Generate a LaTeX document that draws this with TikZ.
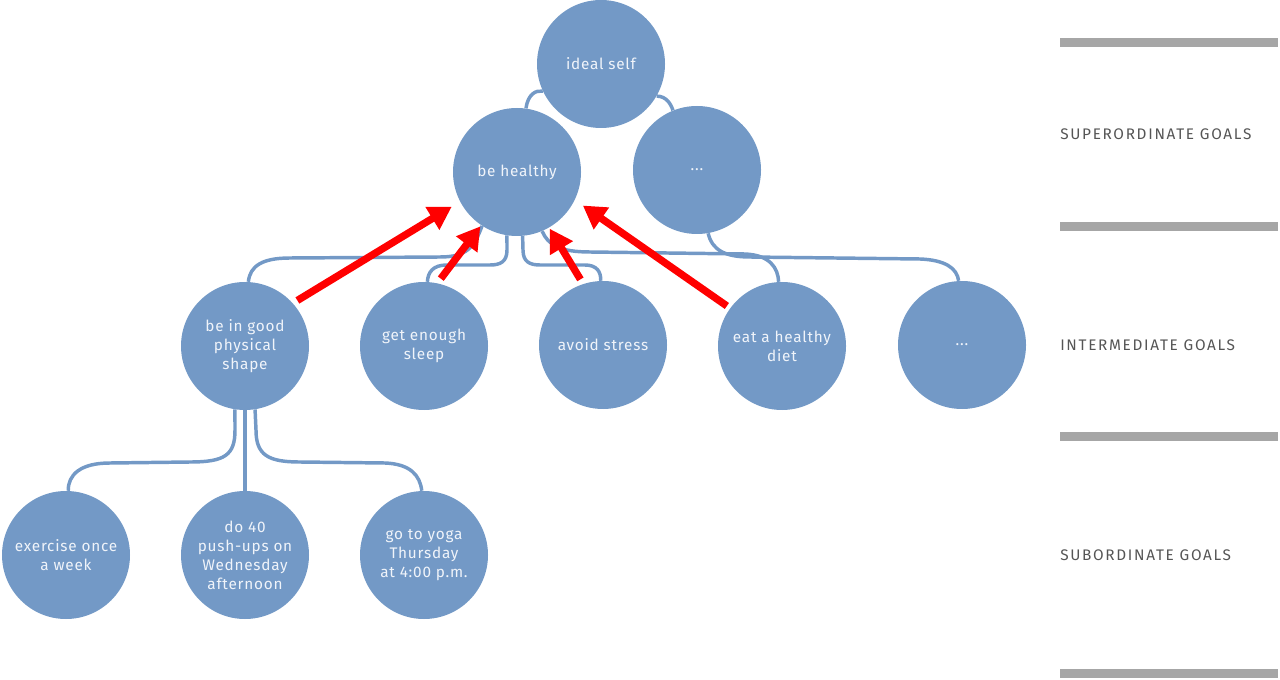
\documentclass[tikz,border=0pt]{standalone}
\usepackage{fontspec}
\setmainfont{Fira Sans}
\usetikzlibrary{calc,arrows.meta,backgrounds}
\definecolor{goalblue}{RGB}{115,153,198}
\definecolor{goaltext}{RGB}{240,244,250}
\definecolor{bargray}{RGB}{166,166,166}
\definecolor{labelgray}{RGB}{85,85,85}
\newfontfamily\circfont[LetterSpace=5]{Fira Sans}
\newfontfamily\labfont[LetterSpace=11]{Fira Sans}
\tikzset{
  goal/.style={circle, fill=goalblue, minimum size=96pt, inner sep=0pt,
    text=goaltext, align=center, font=\circfont\fontsize{11.5}{14.25}\selectfont},
  conn/.style={draw=goalblue, line width=2.6pt},
  redarrow/.style={draw=red, line width=5.5pt, -{Triangle[length=17pt,width=19pt]}},
  levellabel/.style={anchor=west, inner sep=0pt, text=labelgray, font=\labfont\fontsize{11.5}{13}\selectfont},
  levelbar/.style={fill=bargray, draw=none}
}
\begin{document}
\begin{tikzpicture}[x=0.75pt,y=-0.75pt]
\useasboundingbox (0,0) rectangle (1280,680);
% nodes
\node[goal] (is) at (601,64) {ideal self};
\node[goal] (bh) at (517,172) {be healthy};
\node[goal] (d1) at (697,170) {...};
\node[goal] (phys) at (245,346) {be in good\\physical\\shape};
\node[goal] (sleep) at (424,346) {get enough\\sleep};
\node[goal] (stress) at (603,345) {avoid stress};
\node[goal] (diet) at (782,346) {eat a healthy\\diet};
\node[goal] (d2) at (962,345) {...};
\node[goal] (ex) at (66,555) {exercise once\\a week};
\node[goal] (push) at (245,555) {do 40\\push-ups on\\Wednesday\\afternoon};
\node[goal] (yoga) at (424,555) {go to yoga\\Thursday\\at 4:00 p.m.};
% connectors
\begin{pgfonlayer}{background}
\draw[conn] (bh.82) .. controls (528,94) and (536,90) .. (is.205);
\draw[conn] (is.330) .. controls (666,96) and (671,104) .. (d1.112);
\draw[conn] (bh.237) .. controls (474,248) and (466,257) .. (440,257) -- (290,258) .. controls (262,258) and (250,266) .. (phys.87);
\draw[conn] (bh.261) -- (507,250) .. controls (507,262) and (500,265) .. (490,265) -- (447,265) .. controls (433,265) and (428,272) .. (sleep.87);
\draw[conn] (bh.275) -- (523,250) .. controls (523,262) and (530,265) .. (540,265) -- (585,265) .. controls (597,265) and (601,272) .. (stress.92);
\draw[conn] (bh.293) .. controls (548,245) and (560,252) .. (590,252) -- (745,254) .. controls (770,255) and (778,268) .. (diet.93);
\draw[conn] (d1.280) .. controls (712,250) and (725,257) .. (750,257) -- (920,259) .. controls (945,260) and (957,268) .. (d2.93);
\draw[conn] (phys.261) -- (235,430) .. controls (235,455) and (225,462) .. (190,462) -- (110,463) .. controls (80,463) and (68,475) .. (ex.88);
\draw[conn] (phys.south) -- (push.north);
\draw[conn] (phys.279) -- (256,430) .. controls (256,455) and (268,462) .. (300,462) -- (385,463) .. controls (410,464) and (420,475) .. (yoga.92);
\end{pgfonlayer}
% red arrows
\draw[redarrow] ($(phys.center)!1.08!(phys.41.5)$) -- ($(bh.center)!1.15!(bh.208)$);
\draw[redarrow] ($(sleep.center)!1.08!(sleep.76.6)$) -- ($(bh.center)!1.02!(bh.236)$);
\draw[redarrow] ($(stress.center)!1.08!(stress.109.5)$) -- ($(bh.center)!1.02!(bh.300.5)$);
\draw[redarrow] ($(diet.center)!1.06!(diet.144)$) -- ($(bh.center)!1.15!(bh.333)$);
% level bars and labels
\fill[levelbar] (1060,38) rectangle (1278,47);
\fill[levelbar] (1060,222) rectangle (1278,231);
\fill[levelbar] (1060,432) rectangle (1278,441);
\fill[levelbar] (1060,669) rectangle (1278,678);
\node[levellabel] (lsup) at (1060,134) {SUPERORDINATE GOALS};
\node[levellabel] (lint) at (1060,345) {INTERMEDIATE GOALS};
\node[levellabel] (lsub) at (1060,555) {SUBORDINATE GOALS};
\end{tikzpicture}
\end{document}
